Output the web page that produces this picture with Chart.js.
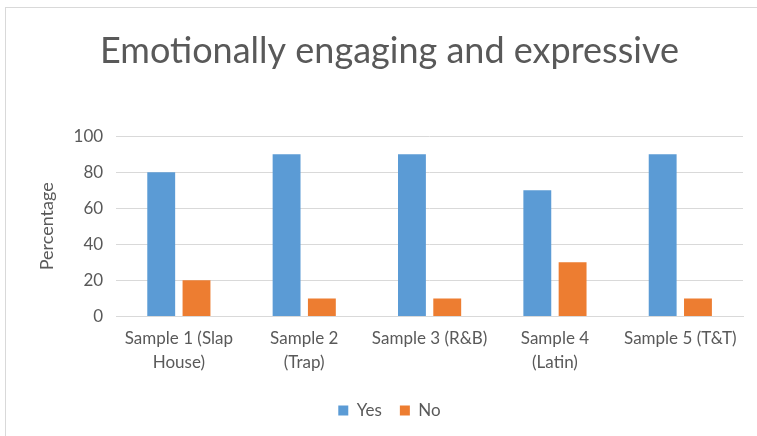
<!DOCTYPE html>
<html><head><meta charset="utf-8">
<script src="https://cdn.jsdelivr.net/npm/chart.js@4"></script>
<style>
html,body{margin:0;padding:0;background:#fff;width:757px;height:436px;overflow:hidden;}
#wrap{position:absolute;left:5px;top:7px;width:752px;height:429px;border-left:1px solid #d9d9d9;border-top:1px solid #d9d9d9;box-sizing:border-box;}
canvas{display:block;}
</style></head>
<body>
<div id="wrap"><canvas id="c" width="751" height="428"></canvas></div>
<script>
const categories = [["Sample 1 (Slap","House)"],["Sample 2","(Trap)"],"Sample 3 (R&B)",["Sample 4","(Latin)"],"Sample 5 (T&T)"];
const yesValues = [80, 90, 90, 70, 90];
const noValues = [20, 10, 10, 30, 10];
const yTicks = [0, 20, 40, 60, 80, 100];
const FONT = "Lato, 'Open Sans', sans-serif";
const GREY = '#595959';
new Chart(document.getElementById('c'), {
  type: 'bar',
  data: {
    labels: categories,
    datasets: [
      {label: 'Yes', data: yesValues, backgroundColor: '#5B9BD5', categoryPercentage: 0.563, barPercentage: 0.79},
      {label: 'No', data: noValues, backgroundColor: '#ED7D31', categoryPercentage: 0.563, barPercentage: 0.79}
    ]
  },
  options: {
    responsive: false,
    animation: false,
    layout: {padding: {left: 30, right: 14, top: 14, bottom: 7}},
    plugins: {
      title: {display: true, text: 'Emotionally engaging and expressive', color: GREY,
        font: {family: FONT, size: 36, weight: 'normal'}, padding: {top: 8, bottom: 63}},
      legend: {position: 'bottom', labels: {color: GREY, font: {family: FONT, size: 17}, boxWidth: 10, boxHeight: 10, padding: 18}},
      tooltip: {enabled: false}
    },
    scales: {
      x: {
        grid: {display: false, drawTicks: false},
        border: {color: '#d9d9d9', width: 1},
        ticks: {color: GREY, font: {family: FONT, size: 17, lineHeight: 1.4}, maxRotation: 0, autoSkip: false, padding: 10}
      },
      y: {
        min: 0, max: 100,
        afterBuildTicks: (s) => { s.ticks = yTicks.map(v => ({value: v})); },
        grid: {color: '#d9d9d9', drawTicks: false},
        border: {display: false},
        ticks: {color: GREY, font: {family: FONT, size: 17}, padding: 13},
        title: {display: true, text: 'Percentage', color: GREY, font: {family: FONT, size: 18}, padding: {top: 0, bottom: 3}}
      }
    }
  }
});
</script>
</body></html>
